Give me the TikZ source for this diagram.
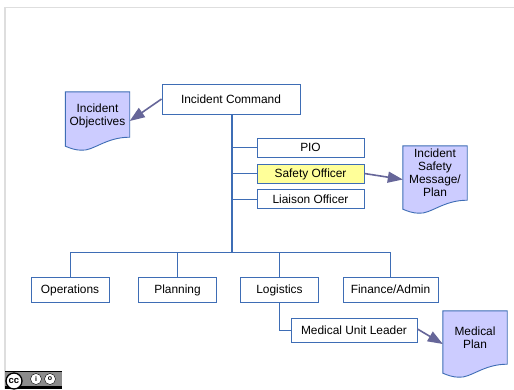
\documentclass[tikz,border=0pt]{standalone}
\usepackage{fontspec}
\setmainfont{Liberation Sans}
\usetikzlibrary{arrows.meta, calc}
\definecolor{boxline}{HTML}{3E6DB5}
\definecolor{docfill}{HTML}{CCCCFF}
\definecolor{safefill}{HTML}{FFFF99}
\definecolor{flowline}{HTML}{666699}
\tikzset{
    rolebox/.style={draw=boxline, line width=0.9pt, fill=white, inner sep=0pt, text height=8.5pt, text depth=0.5pt, font=\fontsize{11.9}{13}\selectfont},
    docbox/.style={minimum width=64pt, inner sep=0pt},
    docline/.style={draw=boxline, line width=0.9pt, fill=docfill},
    doctext/.style={align=center, inner sep=0pt, font=\fontsize{11.9}{13}\selectfont},
    link/.style={draw=boxline, line width=0.9pt},
    flow/.style={draw=flowline, line width=1.6pt, -{Triangle[length=15pt, width=11pt]}}
}
\newcommand{\docwave}[1]{
    \draw[docline] (#1.north west) -- (#1.north east) -- ([yshift=13pt]#1.south east)
        .. controls ([xshift=-24pt, yshift=13pt]#1.south east) and ([xshift=28pt, yshift=-1pt]#1.south west) .. ([xshift=16pt]#1.south west)
        .. controls ([xshift=10pt]#1.south west) and ([xshift=5pt, yshift=2pt]#1.south west) .. ([yshift=4pt]#1.south west) -- cycle;
}
\begin{document}
\begin{tikzpicture}[x=1pt, y=-1pt]
    \useasboundingbox (0, 0) rectangle (514, 389);
    \fill[white] (0, 0) rectangle (514, 389);
    \draw[black!13, line width=1.6pt] (5, 389) -- (5, 7.5) -- (514, 7.5);

    % role boxes
    \node[rolebox, minimum width=138pt, minimum height=30pt] (command) at (231, 99) {Incident Command};
    \node[rolebox, minimum width=107pt, minimum height=19pt] (pio) at (310.5, 147.5) {PIO};
    \node[rolebox, minimum width=107pt, minimum height=19pt, fill=safefill] (safety) at (310.5, 173.5) {Safety Officer};
    \node[rolebox, minimum width=107pt, minimum height=19pt] (liaison) at (310.5, 199) {Liaison Officer};
    \node[rolebox, minimum width=78pt, minimum height=25pt] (ops) at (70, 289.5) {Operations};
    \node[rolebox, minimum width=78pt, minimum height=25pt] (plan) at (177.5, 289.5) {Planning};
    \node[rolebox, minimum width=78pt, minimum height=25pt] (log) at (279.5, 289.5) {Logistics};
    \node[rolebox, minimum width=95pt, minimum height=25pt] (fin) at (390.5, 289.5) {Finance/Admin};
    \node[rolebox, minimum width=126pt, minimum height=24pt] (medical) at (354, 330) {Medical Unit Leader};

    % documents
    \node[docbox, minimum height=58pt] (objdoc) at (97.5, 121) {};
    \docwave{objdoc}
    \node[doctext] (objtext) at (97.5, 115.5) {Incident\\Objectives};
    \node[docbox, minimum height=67pt] (safedoc) at (435, 179.5) {};
    \docwave{safedoc}
    \node[doctext] (safetext) at (435, 172.5) {Incident\\Safety\\Message/\\Plan};
    \node[docbox, minimum height=66pt] (meddoc) at (475, 344) {};
    \docwave{meddoc}
    \node[doctext] (medtext) at (475, 337.5) {Medical\\Plan};

    % org lines
    \coordinate (trunk) at (232, 252.7);
    \draw[link, line width=1.4pt] (command.south -| trunk) -- (trunk);
    \draw[link] (pio.west) -- (pio.west -| trunk);
    \draw[link] (safety.west) -- (safety.west -| trunk);
    \draw[link] (liaison.west) -- (liaison.west -| trunk);
    \draw[link] (ops.north) |- (trunk);
    \draw[link] (fin.north) |- (trunk);
    \draw[link] (plan.north) -- (plan.north |- trunk);
    \draw[link] (log.north) -- (log.north |- trunk);
    \draw[link] (log.south) |- (medical.west);

    % document flows
    \draw[flow] (command.west) -- (objdoc.east);
    \draw[flow] (safety.east) -- (safedoc.west);
    \draw[flow] ([yshift=1pt]medical.east) -- (meddoc.west);

    % licence badge
    \fill[black!45] (5, 371) rectangle (62, 389);
    \fill[black] (5, 371) rectangle (62, 372);
    \fill[black] (5, 385.5) rectangle (62, 389);
    \node[circle, draw=black, line width=1.3pt, fill=white, minimum size=16pt, inner sep=0pt, font=\fontsize{9.5}{9.5}\bfseries\selectfont] (ccmark) at (14, 381) {cc};
    \node[circle, draw=black, fill=white, minimum size=11pt, inner sep=0pt, font=\fontsize{7}{7}\bfseries\selectfont] (bymark) at (36, 379) {i};
    \node[circle, draw=black, fill=white, minimum size=11pt, inner sep=0pt, font=\fontsize{7}{7}\bfseries\selectfont] (samark) at (50, 379) {o};
\end{tikzpicture}
\end{document}
